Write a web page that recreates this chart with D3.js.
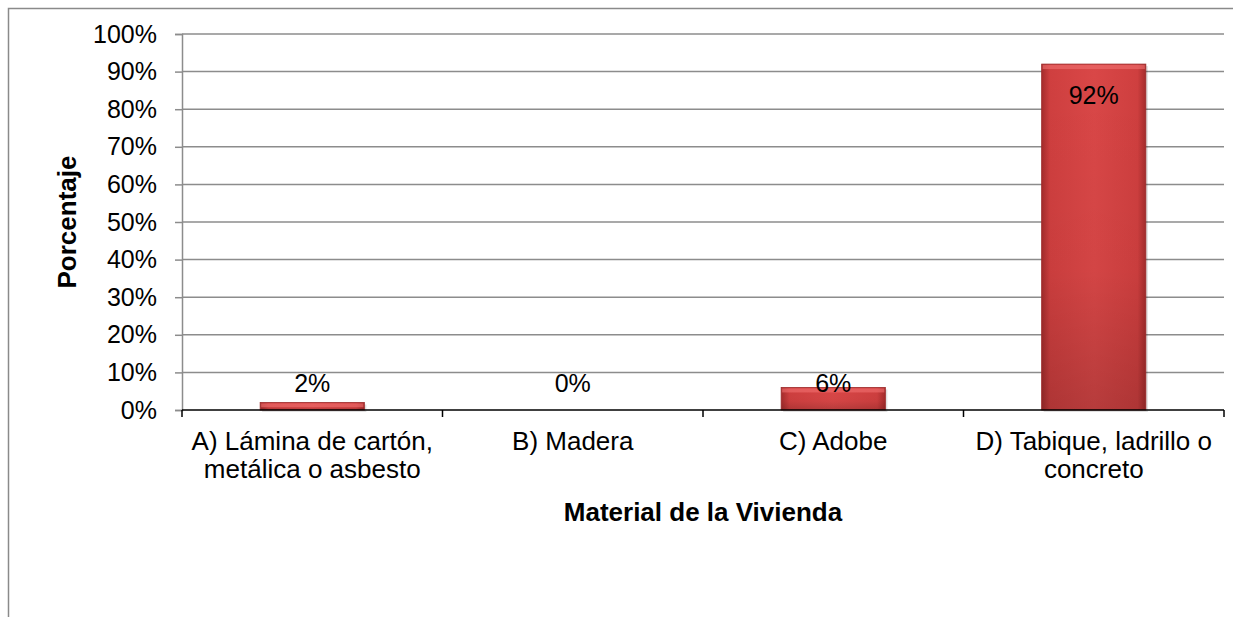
<!DOCTYPE html>
<html>
<head>
<meta charset="utf-8">
<script src="https://cdn.jsdelivr.net/npm/d3@7"></script>
<style>
  body { margin: 0; background: #fff; }
  svg text { font-family: "Liberation Sans", Arial, sans-serif; fill: #000; }
</style>
</head>
<body>
<svg id="chart" width="1233" height="617"></svg>
<script>
// categories and values
const categories = ["A", "B", "C", "D"];
const categoryLines = [
    ["A) Lámina de cartón,", "metálica o asbesto"],
    ["B) Madera"],
    ["C) Adobe"],
    ["D) Tabique, ladrillo o", "concreto"]
];
const values = [2, 0, 6, 92];
const yTicks = [0, 10, 20, 30, 40, 50, 60, 70, 80, 90, 100];

const margin = { top: 34, right: 9, bottom: 207, left: 182 };
const W = 1233, H = 617;
const width = W - margin.left - margin.right;
const height = H - margin.top - margin.bottom;

const svg = d3.select("#chart");

// outer chart border (runs off the right and bottom of the picture)
svg.append("rect")
    .attr("x", 8.5).attr("y", 8.5)
    .attr("width", 1300).attr("height", 700)
    .attr("fill", "none")
    .attr("stroke", "#8a8a8a")
    .attr("stroke-width", 1.5);

const defs = svg.append("defs");
const hGrad = defs.append("linearGradient").attr("id", "barH")
    .attr("x1", "0").attr("x2", "1").attr("y1", "0").attr("y2", "0");
hGrad.append("stop").attr("offset", "0%").attr("stop-color", "#a52c2c");
hGrad.append("stop").attr("offset", "8%").attr("stop-color", "#cf3f3f");
hGrad.append("stop").attr("offset", "50%").attr("stop-color", "#d94747");
hGrad.append("stop").attr("offset", "92%").attr("stop-color", "#cf3f3f");
hGrad.append("stop").attr("offset", "100%").attr("stop-color", "#a52c2c");

const vGrad = defs.append("linearGradient").attr("id", "barV")
    .attr("x1", "0").attr("x2", "0").attr("y1", "0").attr("y2", "1");
vGrad.append("stop").attr("offset", "0%").attr("stop-color", "#000").attr("stop-opacity", 0);
vGrad.append("stop").attr("offset", "60%").attr("stop-color", "#000").attr("stop-opacity", 0.03);
vGrad.append("stop").attr("offset", "100%").attr("stop-color", "#000").attr("stop-opacity", 0.16);

const chart = svg.append("g")
    .attr("transform", `translate(${margin.left},${margin.top})`);

const x = d3.scaleBand().domain(categories).range([0, width]).padding(0);
const y = d3.scaleLinear().domain([0, 100]).range([height, 0]);
const barW = x.bandwidth() * 0.4;

// gridlines
chart.append("g")
    .selectAll("line")
    .data(yTicks.filter(t => t > 0))
    .join("line")
    .attr("x1", 0).attr("x2", width)
    .attr("y1", d => y(d)).attr("y2", d => y(d))
    .attr("stroke", "#8c8c8c")
    .attr("stroke-width", 1.5);

// y axis
const yAxis = d3.axisLeft(y).tickValues(yTicks).tickFormat(d => d + "%").tickSize(7).tickPadding(18);
const yAxisG = chart.append("g").call(yAxis);
yAxisG.select(".domain").attr("stroke", "#8c8c8c").attr("stroke-width", 1.5);
yAxisG.selectAll(".tick line").attr("stroke", "#8c8c8c").attr("stroke-width", 1.5);
yAxisG.selectAll(".tick text")
    .attr("font-size", 25)
    .attr("font-family", "Liberation Sans, Arial, sans-serif")
    .attr("fill", "#000");

// bars
const bars = chart.append("g").selectAll("g")
    .data(values.map((v, i) => ({ cat: categories[i], v })))
    .join("g")
    .filter(d => d.v > 0);

bars.append("rect")
    .attr("x", d => x(d.cat) + (x.bandwidth() - barW) / 2 + 2)
    .attr("y", d => y(d.v) + 2)
    .attr("width", barW)
    .attr("height", d => height - y(d.v))
    .attr("fill", "#000").attr("opacity", 0.12);

bars.append("rect")
    .attr("x", d => x(d.cat) + (x.bandwidth() - barW) / 2)
    .attr("y", d => y(d.v))
    .attr("width", barW)
    .attr("height", d => height - y(d.v))
    .attr("fill", "url(#barH)");

bars.append("rect")
    .attr("x", d => x(d.cat) + (x.bandwidth() - barW) / 2)
    .attr("y", d => y(d.v))
    .attr("width", barW)
    .attr("height", d => height - y(d.v))
    .attr("fill", "url(#barV)")
    .attr("stroke", "#9c2a2a")
    .attr("stroke-width", 0.8);

// light bevel along the top
bars.append("rect")
    .attr("x", d => x(d.cat) + (x.bandwidth() - barW) / 2 + 1)
    .attr("y", d => y(d.v) + 1)
    .attr("width", barW - 2)
    .attr("height", d => Math.min(4, (height - y(d.v)) / 2))
    .attr("fill", "#f07070").attr("opacity", 0.6);

// x axis (black baseline with category dividers)
const xAxisG = chart.append("g").attr("transform", `translate(0,${height})`);
xAxisG.append("line")
    .attr("x1", 0).attr("x2", width)
    .attr("stroke", "#000").attr("stroke-width", 1.5);
xAxisG.selectAll(".div")
    .data(categories.map(c => x(c)).concat([width]))
    .join("line")
    .attr("x1", d => d).attr("x2", d => d)
    .attr("y1", 0).attr("y2", 7)
    .attr("stroke", "#000").attr("stroke-width", 1.5);

xAxisG.selectAll(".cat")
    .data(categories)
    .join("text")
    .attr("text-anchor", "middle")
    .attr("font-size", 26)
    .attr("y", 40)
    .each(function(d, i) {
        const t = d3.select(this);
        categoryLines[i].forEach((line, j) => {
            t.append("tspan")
                .attr("x", x(d) + x.bandwidth() / 2)
                .attr("dy", j === 0 ? 0 : 28)
                .text(line);
        });
    });

// data labels (inside end, kept above the axis for short bars)
chart.append("g").selectAll("text")
    .data(values.map((v, i) => ({ cat: categories[i], v })))
    .join("text")
    .attr("text-anchor", "middle")
    .attr("font-size", 25)
    .attr("x", d => x(d.cat) + x.bandwidth() / 2)
    .attr("y", d => Math.min(y(d.v) + 31, height - 27) + 9)
    .text(d => d.v + "%");

// axis titles
svg.append("text")
    .attr("text-anchor", "middle")
    .attr("font-size", 26)
    .attr("font-weight", "bold")
    .attr("x", margin.left + width / 2)
    .attr("y", 521)
    .text("Material de la Vivienda");

svg.append("text")
    .attr("text-anchor", "middle")
    .attr("font-size", 26)
    .attr("font-weight", "bold")
    .attr("transform", "translate(76,222) rotate(-90)")
    .text("Porcentaje");
</script>
</body>
</html>
